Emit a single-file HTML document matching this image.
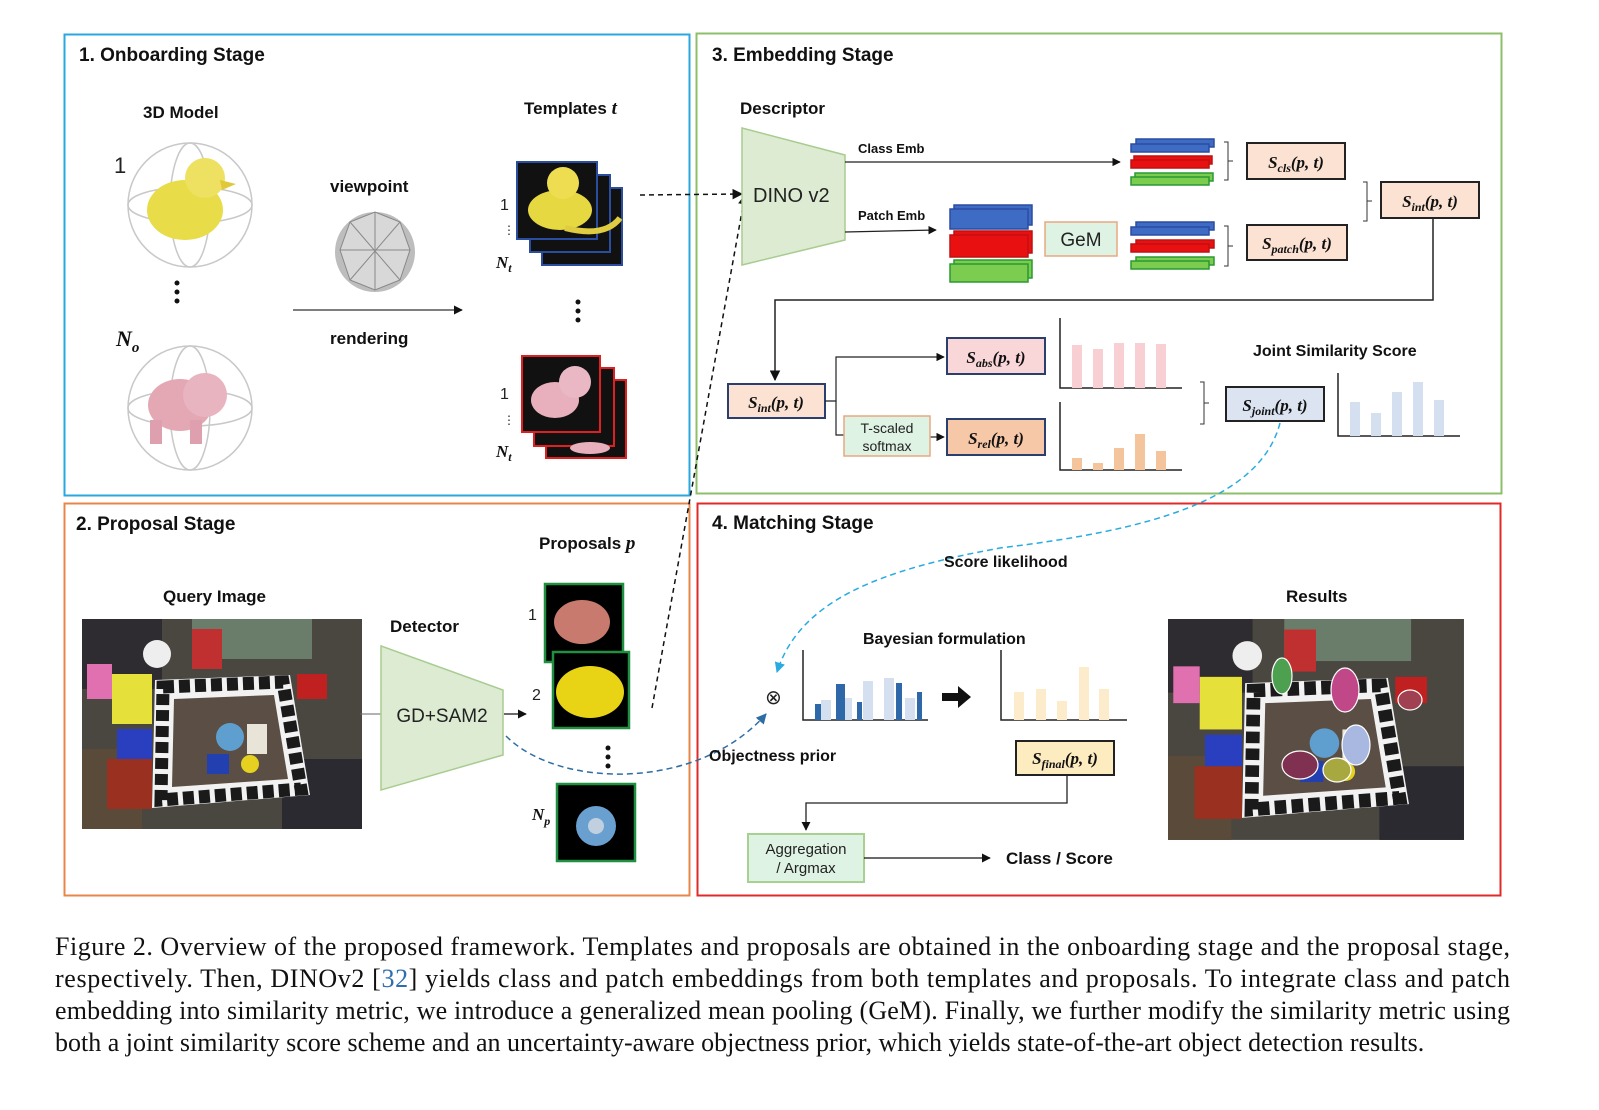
<!DOCTYPE html>
<html><head><meta charset="utf-8"><style>
html,body{margin:0;padding:0;background:#fff;}
svg{display:block}
.b{font-family:"Liberation Sans","DejaVu Sans",sans-serif;font-weight:bold;fill:#111}
.s{font-family:"Liberation Sans","DejaVu Sans",sans-serif;fill:#222}
.m{font-family:"Liberation Serif",serif;font-style:italic;font-weight:bold;fill:#111}
.cap{font-family:"Liberation Serif",serif;font-size:26px;fill:#111}
</style></head><body>
<svg width="1599" height="1110" viewBox="0 0 1599 1110" xmlns="http://www.w3.org/2000/svg">
<defs>
<marker id="ah" viewBox="0 0 10 10" refX="9" refY="5" markerWidth="7" markerHeight="7" orient="auto"><path d="M0,0L10,5L0,10z" fill="#111"/></marker>
<marker id="ahc" viewBox="0 0 10 10" refX="9" refY="5" markerWidth="7" markerHeight="7" orient="auto"><path d="M0,0L10,5L0,10z" fill="#29abe2"/></marker>
<marker id="ahd" viewBox="0 0 10 10" refX="9" refY="5" markerWidth="7" markerHeight="7" orient="auto"><path d="M0,0L10,5L0,10z" fill="#2e6da4"/></marker>
<g id="scene">
<rect x="0" y="0" width="280" height="210" fill="#4a4640"/>
<rect x="0" y="0" width="80" height="70" fill="#2e2c30"/>
<rect x="110" y="0" width="120" height="40" fill="#6a7d6a"/>
<rect x="200" y="140" width="80" height="70" fill="#2a2a30"/>
<rect x="0" y="130" width="60" height="80" fill="#5a4a3a"/>
<rect x="30" y="55" width="40" height="50" fill="#e6e03a"/>
<rect x="5" y="45" width="25" height="35" fill="#e070b0"/>
<rect x="35" y="110" width="35" height="30" fill="#2a3ec0"/>
<rect x="25" y="140" width="45" height="50" fill="#9a3020"/>
<circle cx="75" cy="35" r="14" fill="#eee"/>
<rect x="110" y="10" width="30" height="40" fill="#c03030"/>
<rect x="215" y="55" width="30" height="25" fill="#c02020"/>
<path d="M73,61L208,56L228,176L70,189Z" fill="#f2f2f2"/>
<path d="M81,68L201,63L219,170L79,181Z" fill="none" stroke="#1a1a1a" stroke-width="13" stroke-dasharray="11 5"/>
<path d="M92,80L192,76L206,160L90,168Z" fill="#5b4e44"/>
<circle cx="148" cy="118" r="14" fill="#5f9fd0"/>
<rect x="165" y="105" width="20" height="30" fill="#e8e4d8"/>
<rect x="125" y="135" width="22" height="20" fill="#2240b0"/>
<circle cx="168" cy="145" r="9" fill="#e6d020"/>
</g>
</defs>

<rect x="64.5" y="34.5" width="625" height="461" fill="none" stroke="#2aa7de" stroke-width="2"/>
<rect x="696.5" y="33.5" width="805" height="460" fill="none" stroke="#8dbf6b" stroke-width="2"/>
<rect x="64.5" y="503.5" width="625" height="392" fill="none" stroke="#e8864a" stroke-width="2"/>
<rect x="697.5" y="503.5" width="803" height="392" fill="none" stroke="#e02a2a" stroke-width="2"/>

<text class="b" x="79" y="61" font-size="19">1. Onboarding Stage</text>
<text class="b" x="712" y="61" font-size="19">3. Embedding Stage</text>
<text class="b" x="76" y="530" font-size="19">2. Proposal Stage</text>
<text class="b" x="712" y="529" font-size="19">4. Matching Stage</text>

<text class="b" x="143" y="118" font-size="17">3D Model</text>
<text class="s" x="114" y="173" font-size="22" font-family="Liberation Serif">1</text>
<g fill="none" stroke="#c8c8c8" stroke-width="1.5">
<circle cx="190" cy="205" r="62"/><ellipse cx="190" cy="205" rx="62" ry="18"/><ellipse cx="190" cy="205" rx="20" ry="62"/>
<circle cx="190" cy="408" r="62"/><ellipse cx="190" cy="408" rx="62" ry="18"/><ellipse cx="190" cy="408" rx="20" ry="62"/>
</g>
<ellipse cx="185" cy="210" rx="38" ry="30" fill="#e8dc48"/><circle cx="205" cy="178" r="20" fill="#eee060"/><path d="M220,180l16,4l-14,6z" fill="#e0c838"/>
<ellipse cx="180" cy="405" rx="32" ry="26" fill="#e3a8b4"/><circle cx="205" cy="395" r="22" fill="#e8b4c0"/><rect x="150" y="420" width="12" height="24" fill="#dea0ae"/><rect x="190" y="420" width="12" height="24" fill="#dea0ae"/>
<circle cx="177" cy="283" r="2.5" fill="#111"/><circle cx="177" cy="292" r="2.5" fill="#111"/><circle cx="177" cy="301" r="2.5" fill="#111"/>
<text class="m" x="116" y="346" font-size="22" font-weight="normal">N<tspan font-size="15" dy="6">o</tspan></text>
<text class="b" x="330" y="192" font-size="17">viewpoint</text>
<circle cx="375" cy="252" r="40" fill="#bdbdbd"/>
<path d="M350,222L375,212L400,222L410,250L400,280L375,290L350,280L340,250Z" fill="#d8d8d8" stroke="#888" stroke-width="1"/>
<path d="M375,212L375,290M340,250L410,250M350,222L400,280M400,222L350,280" stroke="#888" stroke-width="1"/>
<path d="M293,310L462,310" stroke="#333" stroke-width="1.3" marker-end="url(#ah)"/>
<text class="b" x="330" y="344" font-size="17">rendering</text>

<text class="b" x="524" y="114" font-size="17">Templates <tspan class="m" font-size="19">t</tspan></text>
<rect x="542" y="188" width="80" height="77" fill="#111" stroke="#2a4da0" stroke-width="2"/>
<rect x="530" y="175" width="80" height="77" fill="#111" stroke="#2a4da0" stroke-width="2"/>
<rect x="517" y="162" width="80" height="77" fill="#111" stroke="#2a4da0" stroke-width="2"/>
<ellipse cx="560" cy="210" rx="32" ry="20" fill="#e6d840"/><circle cx="563" cy="183" r="16" fill="#eedd50"/>
<path d="M565,228 q40,10 55,-10" stroke="#e0cc40" stroke-width="6" fill="none"/>
<text class="s" x="500" y="210" font-size="16" font-family="Liberation Serif">1</text>
<text class="s" x="503" y="234" font-size="12">⋮</text>
<text class="m" x="496" y="268" font-size="17" font-weight="normal">N<tspan font-size="12" dy="4">t</tspan></text>
<circle cx="578" cy="302" r="2.5" fill="#111"/><circle cx="578" cy="311" r="2.5" fill="#111"/><circle cx="578" cy="320" r="2.5" fill="#111"/>
<rect x="546" y="380" width="80" height="78" fill="#111" stroke="#e02020" stroke-width="2"/>
<rect x="534" y="368" width="80" height="78" fill="#111" stroke="#e02020" stroke-width="2"/>
<rect x="522" y="356" width="78" height="76" fill="#111" stroke="#e02020" stroke-width="2"/>
<ellipse cx="555" cy="400" rx="24" ry="18" fill="#e8b0bc"/><circle cx="575" cy="382" r="16" fill="#eab8c4"/>
<ellipse cx="590" cy="448" rx="20" ry="6" fill="#e8b0bc"/>
<text class="s" x="500" y="399" font-size="16" font-family="Liberation Serif">1</text>
<text class="s" x="503" y="424" font-size="12">⋮</text>
<text class="m" x="496" y="457" font-size="17" font-weight="normal">N<tspan font-size="12" dy="4">t</tspan></text>

<path d="M640,195L742,194" stroke="#111" stroke-width="1.5" stroke-dasharray="5 4" marker-end="url(#ah)"/>
<path d="M652,708L745,195" stroke="#111" stroke-width="1.5" stroke-dasharray="5 4" marker-end="url(#ah)"/>

<text class="b" x="740" y="114" font-size="17">Descriptor</text>
<path d="M742,128L845,155L845,240L742,265Z" fill="#dcebd2" stroke="#a8cc90" stroke-width="1.5"/>
<text class="s" x="753" y="202" font-size="20">DINO v2</text>
<text class="b" x="858" y="153" font-size="13">Class Emb</text>
<text class="b" x="858" y="220" font-size="13">Patch Emb</text>
<path d="M845,162L1120,162" stroke="#222" stroke-width="1.2" marker-end="url(#ah)"/>
<path d="M845,232L936,230" stroke="#222" stroke-width="1.2" marker-end="url(#ah)"/>
<g stroke-width="1.5">
<rect x="1136" y="139" width="78" height="8" fill="#3e6bc4" stroke="#2a4da0"/><rect x="1131" y="144" width="78" height="8" fill="#3e6bc4" stroke="#2a4da0"/>
<rect x="1134" y="156" width="78" height="8" fill="#e81010" stroke="#c01010"/><rect x="1131" y="160" width="78" height="8" fill="#e81010" stroke="#c01010"/>
<rect x="1135" y="173" width="78" height="8" fill="#7ccc50" stroke="#2a9a30"/><rect x="1131" y="177" width="78" height="8" fill="#7ccc50" stroke="#2a9a30"/>
<rect x="954" y="205" width="78" height="20" fill="#3e6bc4" stroke="#2a4da0"/><rect x="950" y="209" width="78" height="20" fill="#3e6bc4" stroke="#2a4da0"/>
<rect x="954" y="231" width="78" height="22" fill="#e81010" stroke="#c01010"/><rect x="950" y="235" width="78" height="22" fill="#e81010" stroke="#c01010"/>
<rect x="954" y="260" width="78" height="18" fill="#7ccc50" stroke="#2a9a30"/><rect x="950" y="264" width="78" height="18" fill="#7ccc50" stroke="#2a9a30"/>
<rect x="1136" y="222" width="78" height="8" fill="#3e6bc4" stroke="#2a4da0"/><rect x="1131" y="227" width="78" height="8" fill="#3e6bc4" stroke="#2a4da0"/>
<rect x="1136" y="240" width="78" height="8" fill="#e81010" stroke="#c01010"/><rect x="1131" y="244" width="78" height="8" fill="#e81010" stroke="#c01010"/>
<rect x="1136" y="257" width="78" height="8" fill="#7ccc50" stroke="#2a9a30"/><rect x="1131" y="261" width="78" height="8" fill="#7ccc50" stroke="#2a9a30"/>
</g>
<rect x="1045" y="222" width="72" height="34" fill="#dff3e4" stroke="#e8a880" stroke-width="1.5"/>
<text class="s" x="1081" y="246" font-size="19" text-anchor="middle">GeM</text>
<g fill="none" stroke="#333" stroke-width="1">
<path d="M1224,142h4v38h-4M1228,161h5"/>
<path d="M1224,226h4v40h-4M1228,246h5"/>
<path d="M1363,182h4v39h-4M1367,201h5"/>
<path d="M1200,382h4v42h-4M1204,403h5"/>
</g>
<g stroke="#222" stroke-width="2">
<rect x="1247" y="143" width="98" height="36" fill="#fbe2d3"/>
<rect x="1247" y="225" width="100" height="35" fill="#fbe2d3"/>
<rect x="1381" y="182" width="98" height="36" fill="#fbe2d3"/>
</g>
<text class="m" x="1296" y="168" font-size="17" text-anchor="middle">S<tspan font-size="12" dy="4">cls</tspan><tspan dy="-4">(p, t)</tspan></text>
<text class="m" x="1297" y="249" font-size="17" text-anchor="middle">S<tspan font-size="12" dy="4">patch</tspan><tspan dy="-4">(p, t)</tspan></text>
<text class="m" x="1430" y="207" font-size="17" text-anchor="middle">S<tspan font-size="12" dy="4">int</tspan><tspan dy="-4">(p, t)</tspan></text>
<path d="M1433,218V300H775V380" fill="none" stroke="#222" stroke-width="1.5" marker-end="url(#ah)"/>
<rect x="728" y="384" width="97" height="34" fill="#fbe2d3" stroke="#2a3f6e" stroke-width="2"/>
<text class="m" x="776" y="408" font-size="17" text-anchor="middle">S<tspan font-size="12" dy="4">int</tspan><tspan dy="-4">(p, t)</tspan></text>
<path d="M825,401H836V357H944" fill="none" stroke="#222" stroke-width="1.2" marker-end="url(#ah)"/>
<path d="M836,401V435H844" fill="none" stroke="#222" stroke-width="1.2"/>
<path d="M930,437H944" fill="none" stroke="#222" stroke-width="1.2" marker-end="url(#ah)"/>
<rect x="844" y="416" width="86" height="40" fill="#dff3e4" stroke="#e8a880" stroke-width="1.5"/>
<text class="s" x="887" y="433" font-size="14" text-anchor="middle">T-scaled</text>
<text class="s" x="887" y="451" font-size="14" text-anchor="middle">softmax</text>
<rect x="947" y="338" width="98" height="36" fill="#f9d6d8" stroke="#2a3f6e" stroke-width="2"/>
<rect x="947" y="419" width="98" height="36" fill="#f6c8a8" stroke="#2a3f6e" stroke-width="2"/>
<text class="m" x="996" y="363" font-size="17" text-anchor="middle">S<tspan font-size="12" dy="4">abs</tspan><tspan dy="-4">(p, t)</tspan></text>
<text class="m" x="996" y="444" font-size="17" text-anchor="middle">S<tspan font-size="12" dy="4">rel</tspan><tspan dy="-4">(p, t)</tspan></text>
<g fill="none" stroke="#222" stroke-width="1.5">
<path d="M1060,318V388H1182"/><path d="M1060,402V470H1182"/><path d="M1338,373V436H1460"/>
<path d="M803,650V720H928"/><path d="M1001,650V720H1127"/>
</g>
<g fill="#f8d0d4"><rect x="1072" y="345" width="10" height="43"/><rect x="1093" y="349" width="10" height="39"/><rect x="1114" y="343" width="10" height="45"/><rect x="1135" y="343" width="10" height="45"/><rect x="1156" y="344" width="10" height="44"/></g>
<g fill="#f4c49c"><rect x="1072" y="458" width="10" height="12"/><rect x="1093" y="463" width="10" height="7"/><rect x="1114" y="448" width="10" height="22"/><rect x="1135" y="434" width="10" height="36"/><rect x="1156" y="451" width="10" height="19"/></g>
<text class="b" x="1253" y="356" font-size="16">Joint Similarity Score</text>
<rect x="1226" y="387" width="98" height="34" fill="#dce4f2" stroke="#222" stroke-width="2"/>
<text class="m" x="1275" y="411" font-size="17" text-anchor="middle">S<tspan font-size="12" dy="4">joint</tspan><tspan dy="-4">(p, t)</tspan></text>
<g fill="#d4e0f0"><rect x="1350" y="402" width="10" height="34"/><rect x="1371" y="413" width="10" height="23"/><rect x="1392" y="392" width="10" height="44"/><rect x="1413" y="382" width="10" height="54"/><rect x="1434" y="400" width="10" height="36"/></g>

<text class="b" x="539" y="549" font-size="17">Proposals <tspan class="m" font-size="19">p</tspan></text>
<text class="b" x="163" y="602" font-size="17">Query Image</text>
<use href="#scene" x="82" y="619"/>
<text class="b" x="390" y="632" font-size="17">Detector</text>
<path d="M360,714H381" stroke="#666" stroke-width="1"/>
<path d="M381,646L503,690L503,755L381,790Z" fill="#dcebd2" stroke="#a8cc90" stroke-width="1.5"/>
<text class="s" x="442" y="722" font-size="19" text-anchor="middle">GD+SAM2</text>
<path d="M504,714H526" stroke="#111" stroke-width="1.3" marker-end="url(#ah)"/>
<rect x="545" y="584" width="78" height="78" fill="#000" stroke="#1e9040" stroke-width="2.5"/>
<ellipse cx="582" cy="622" rx="28" ry="22" fill="#c87a6e"/>
<rect x="553" y="652" width="76" height="76" fill="#000" stroke="#1e9040" stroke-width="2.5"/>
<ellipse cx="590" cy="692" rx="34" ry="26" fill="#e8d414"/>
<rect x="557" y="784" width="78" height="77" fill="#000" stroke="#1e9040" stroke-width="2.5"/>
<circle cx="596" cy="826" r="20" fill="#6aa0d0"/><circle cx="596" cy="826" r="8" fill="#c0d0e0"/>
<text class="s" x="528" y="620" font-size="16" font-family="Liberation Serif">1</text>
<text class="s" x="532" y="700" font-size="16" font-family="Liberation Serif">2</text>
<circle cx="608" cy="748" r="2.5" fill="#111"/><circle cx="608" cy="757" r="2.5" fill="#111"/><circle cx="608" cy="766" r="2.5" fill="#111"/>
<text class="m" x="532" y="820" font-size="17" font-weight="normal">N<tspan font-size="12" dy="5">p</tspan></text>

<path d="M506,736 C560,790 700,790 766,714" fill="none" stroke="#2e6da4" stroke-width="1.5" stroke-dasharray="6 4" marker-end="url(#ahd)"/>
<path d="M1280,423 C1260,500 1150,530 1000,548 C880,570 800,600 777,672" fill="none" stroke="#29abe2" stroke-width="1.5" stroke-dasharray="6 4" marker-end="url(#ahc)"/>
<text class="b" x="944" y="567" font-size="16">Score likelihood</text>
<text class="b" x="863" y="644" font-size="16">Bayesian formulation</text>
<text class="s" x="765" y="704" font-size="20">⊗</text>
<g fill="#d4e0f0"><rect x="821" y="700" width="10" height="20"/><rect x="842" y="698" width="10" height="22"/><rect x="863" y="681" width="10" height="39"/><rect x="884" y="678" width="10" height="42"/><rect x="905" y="698" width="10" height="22"/></g>
<g fill="#2e68a8"><rect x="815" y="704" width="6" height="16"/><rect x="836" y="684" width="9" height="36"/><rect x="857" y="702" width="5" height="18"/><rect x="896" y="683" width="6" height="37"/><rect x="917" y="692" width="5" height="28"/></g>
<path d="M942,693h16v-7l13,11l-13,11v-7h-16z" fill="#111"/>
<g fill="#fdeccb"><rect x="1014" y="692" width="10" height="28"/><rect x="1036" y="689" width="10" height="31"/><rect x="1057" y="701" width="10" height="19"/><rect x="1079" y="667" width="10" height="53"/><rect x="1099" y="689" width="10" height="31"/></g>
<text class="b" x="709" y="761" font-size="16">Objectness prior</text>
<rect x="1016" y="741" width="98" height="34" fill="#fdecc0" stroke="#222" stroke-width="2"/>
<text class="m" x="1065" y="764" font-size="17" text-anchor="middle">S<tspan font-size="12" dy="4">final</tspan><tspan dy="-4">(p, t)</tspan></text>
<path d="M1067,775V803H806V830" fill="none" stroke="#222" stroke-width="1.3" marker-end="url(#ah)"/>
<rect x="748" y="834" width="116" height="48" fill="#dff3e4" stroke="#a8d090" stroke-width="2"/>
<text class="s" x="806" y="854" font-size="15" text-anchor="middle">Aggregation</text>
<text class="s" x="806" y="873" font-size="15" text-anchor="middle">/ Argmax</text>
<path d="M864,858H990" stroke="#111" stroke-width="1.3" marker-end="url(#ah)"/>
<text class="b" x="1006" y="864" font-size="17">Class / Score</text>
<text class="b" x="1286" y="602" font-size="17">Results</text>
<use href="#scene" transform="translate(1168,619) scale(1.057,1.052)"/>
<g stroke="#fff" stroke-width="1.2">
<ellipse cx="1282" cy="676" rx="10" ry="18" fill="#4ca050"/>
<ellipse cx="1345" cy="690" rx="14" ry="22" fill="#c04888"/>
<ellipse cx="1356" cy="745" rx="14" ry="20" fill="#a8b8e0"/>
<ellipse cx="1300" cy="765" rx="18" ry="14" fill="#803050"/>
<ellipse cx="1337" cy="770" rx="14" ry="12" fill="#a8a840"/>
<ellipse cx="1410" cy="700" rx="12" ry="10" fill="#a04050"/>
</g>

<text class="cap" x="55" y="955" textLength="1455" lengthAdjust="spacing">Figure 2. Overview of the proposed framework. Templates and proposals are obtained in the onboarding stage and the proposal stage,</text>
<text class="cap" x="55" y="987" textLength="1455" lengthAdjust="spacing">respectively. Then, DINOv2 [<tspan fill="#2e6db0">32</tspan>] yields class and patch embeddings from both templates and proposals. To integrate class and patch</text>
<text class="cap" x="55" y="1019" textLength="1455" lengthAdjust="spacing">embedding into similarity metric, we introduce a generalized mean pooling (GeM). Finally, we further modify the similarity metric using</text>
<text class="cap" x="55" y="1051">both a joint similarity score scheme and an uncertainty-aware objectness prior, which yields state-of-the-art object detection results.</text>
</svg>
</body></html>
